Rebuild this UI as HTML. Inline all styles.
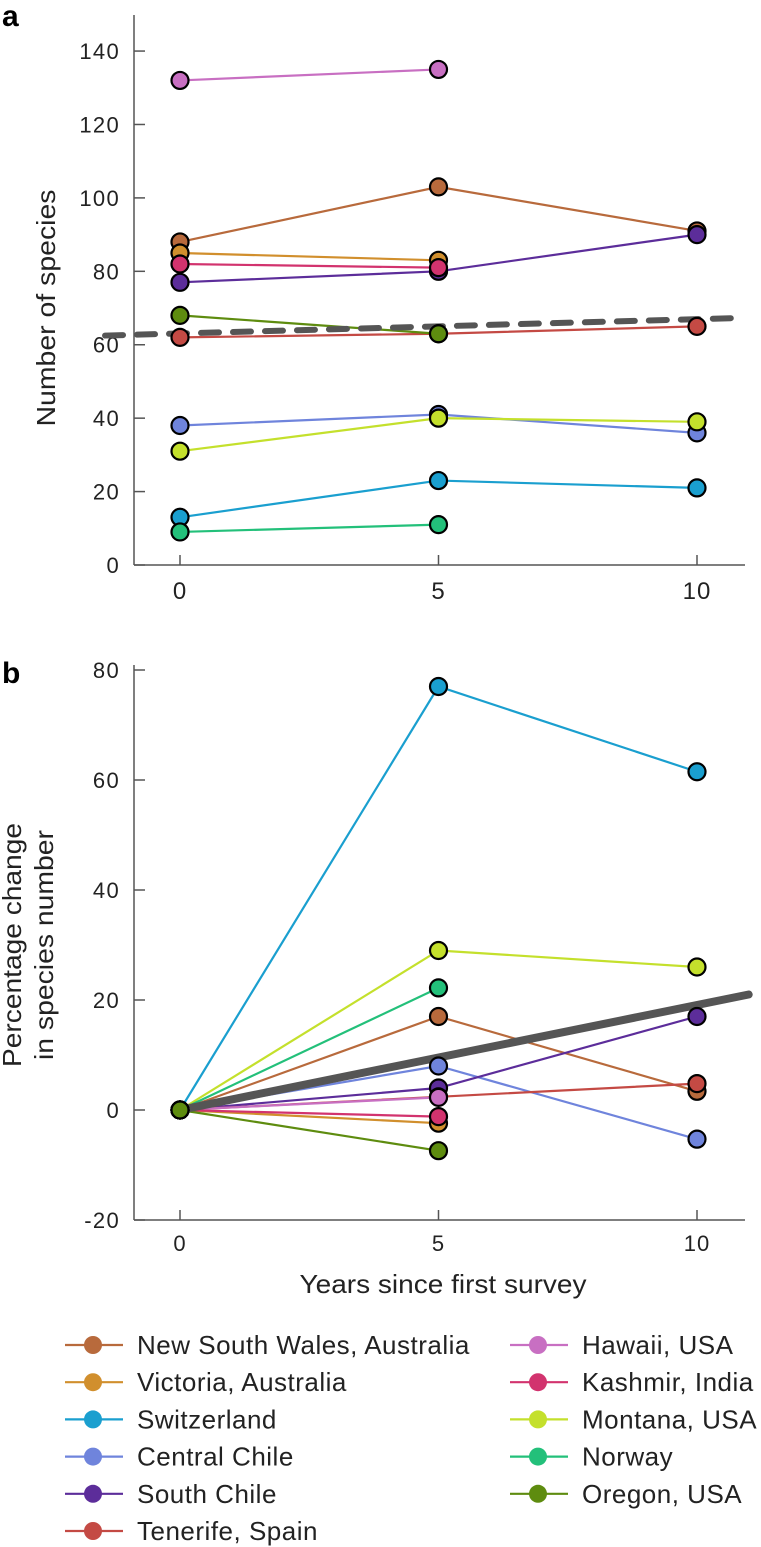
<!DOCTYPE html>
<html><head><meta charset="utf-8"><style>
body{margin:0;background:#fff;}
svg{display:block;font-family:"Liberation Sans",sans-serif;}
</style></head><body>
<svg id="fig" width="761" height="1547" viewBox="0 0 761 1547">
<text x="2" y="26" font-size="30" font-weight="bold">a</text>
<text x="2" y="683" font-size="30" font-weight="bold">b</text>
<g id="ga"></g>
<g id="gb"></g>
<g id="lg"></g>
</svg>
<script>
const regions=["New South Wales, Australia","Victoria, Australia","Switzerland","Central Chile","South Chile","Tenerife, Spain","Hawaii, USA","Kashmir, India","Montana, USA","Norway","Oregon, USA"];
const colors=["#b86a3c","#d18f2d","#1a9fcf","#6f84dc","#5c2d9a","#c44a44","#c86fc2","#d2336e","#c4e02c","#23c07a","#5e8c0f"];
const years=[0,5,10];
const speciesA=[[88,103,91],[85,83],[13,23,21],[38,41,36],[77,80,90],[62,63,65],[132,135],[82,81],[31,40,39],[9,11],[68,63]];
const pctB=[[0,17,3.4],[0,-2.4],[0,77,61.5],[0,8,-5.3],[0,4,17],[0,2.4,4.8],[0,2.3],[0,-1.2],[0,29,26],[0,22.2],[0,-7.4]];
const trendA=[[-1.45,62.5],[10.85,67.3]];
const trendB=[[0,0],[11,21]];
const ticksA=[0,20,40,60,80,100,120,140];
const ticksB=[-20,0,20,40,60,80];
const NS="http://www.w3.org/2000/svg";
function mk(p,t,a){const e=document.createElementNS(NS,t);for(const k in a)e.setAttribute(k,a[k]);p.appendChild(e);return e;}
const xs=v=>180+v*51.7;
function panel(g,data,trend,ticks,ys,top,bot,dashed,w){
  mk(g,'line',{x1:134,y1:top,x2:134,y2:bot,stroke:'#555','stroke-width':1.5});
  mk(g,'line',{x1:134,y1:bot,x2:745,y2:bot,stroke:'#555','stroke-width':1.5});
  ticks.forEach(t=>{
    const l=mk(g,'line',{x1:134,y1:ys(t),x2:145,y2:ys(t),stroke:'#555','stroke-width':1.5});
    
    const tx=mk(g,'text',{x:120,y:ys(t)+8,'font-size':22,'letter-spacing':1.3,'text-anchor':'end',fill:'#222'});tx.textContent=t;
    
  });
  years.forEach(y=>{
    mk(g,'line',{x1:xs(y),y1:bot,x2:xs(y),y2:bot-10,stroke:'#555','stroke-width':1.5});
    const tx=mk(g,'text',{x:xs(y),y:bot+(dashed?34:31),'font-size':dashed?24:22,'letter-spacing':1,'text-anchor':'middle',fill:'#222'});tx.textContent=y;
    
  });
  data.forEach((s,i)=>{
    const pts=s.map((v,j)=>xs(years[j])+','+ys(v)).join(' ');
    const pl=mk(g,'polyline',{points:pts,fill:'none',stroke:colors[i],'stroke-width':2.2});
    
  });
  const tl=mk(g,'line',{x1:xs(trend[0][0]),y1:ys(trend[0][1]),x2:xs(trend[1][0]),y2:ys(trend[1][1]),stroke:'#555','stroke-width':w,'stroke-linecap':'round'});
  if(dashed)tl.setAttribute('stroke-dasharray','18 14');
  
  data.forEach((s,i)=>s.forEach((v,j)=>{
    const c=mk(g,'circle',{cx:xs(years[j]),cy:ys(v),r:8.5,fill:colors[i],stroke:'#000','stroke-width':2.2});
    
  }));
}
const ga=document.getElementById('ga'),gb=document.getElementById('gb'),lg=document.getElementById('lg');
panel(ga,speciesA,trendA,ticksA,v=>565-v*3.671,15,565,true,6);
panel(gb,pctB,trendB,ticksB,v=>1110-v*5.5,665,1220,false,8);
let t=mk(ga,'text',{transform:'translate(55,308) rotate(-90)','font-size':26,'text-anchor':'middle',textLength:237,lengthAdjust:'spacingAndGlyphs',fill:'#222'});t.textContent='Number of species';

t=mk(gb,'text',{transform:'translate(21,945) rotate(-90)','font-size':26,'text-anchor':'middle',textLength:244,lengthAdjust:'spacingAndGlyphs',fill:'#222'});t.textContent='Percentage change';

t=mk(gb,'text',{transform:'translate(53,945) rotate(-90)','font-size':26,'text-anchor':'middle',textLength:230,lengthAdjust:'spacingAndGlyphs',fill:'#222'});t.textContent='in species number';

t=mk(gb,'text',{x:443,y:1293,'font-size':26,'text-anchor':'middle',textLength:287,lengthAdjust:'spacingAndGlyphs',fill:'#222'});t.textContent='Years since first survey';

const order=[[0,0],[1,0],[2,0],[3,0],[4,0],[5,0],[6,1],[7,1],[8,1],[9,1],[10,1]];
let rowL=0,rowR=0;
order.forEach(([i,col])=>{
  const row=col?rowR++:rowL++;
  const y=1345+row*37.2, x0=col?510:65;
  const e=mk(lg,'g',{});
  
  mk(e,'line',{x1:x0,y1:y,x2:x0+58,y2:y,stroke:colors[i],'stroke-width':2.2});
  mk(e,'circle',{cx:x0+28,cy:y,r:9,fill:colors[i]});
  const tx=mk(e,'text',{x:x0+72,y:y+9,'font-size':26,'letter-spacing':0.5,fill:'#222'});tx.textContent=regions[i];
});
</script>
</body></html>
